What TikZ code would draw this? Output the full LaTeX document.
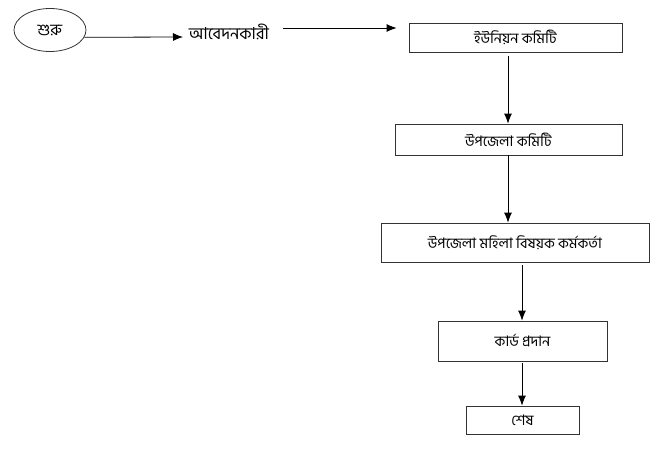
\documentclass[tikz,border=0pt]{standalone}
\usepackage{fontspec}
\newfontfamily\bn[Script=Bengali]{Hind Siliguri}
\usetikzlibrary{shapes.geometric,arrows.meta}
\begin{document}
\begin{tikzpicture}[x=1pt,y=-1pt,
  every node/.style={font=\bn\fontsize{14.5}{17}\selectfont},
  box/.style={draw=black!80, line width=0.8pt, rectangle, inner sep=0pt},
  arr/.style={line width=0.8pt, -{Latex[length=10pt,width=8pt]}}]
\useasboundingbox (0,0) rectangle (666,453);
\node[draw=black!80, line width=0.8pt, ellipse, minimum width=72, minimum height=43, inner sep=0pt, font=\bn\fontsize{16}{18}\selectfont] (start) at (50,30) {শুরু};
\node[font=\bn\fontsize{16.5}{19}\selectfont, inner sep=2pt] (app) at (229,32) {আবেদনকারী};
\node[box, minimum width=213, minimum height=29] (b1) at (515.5,37.5) {ইউনিয়ন কমিটি};
\node[box, minimum width=227, minimum height=31] (b2) at (508.5,139.5) {উপজেলা কমিটি};
\node[box, minimum width=268, minimum height=39] (b3) at (515,242.5) {উপজেলা মহিলা বিষয়ক কর্মকর্তা};
\node[box, minimum width=169, minimum height=40] (b4) at (522.5,341) {কার্ড প্রদান};
\node[box, minimum width=113, minimum height=28] (b5) at (522.5,420) {শেষ};
\coordinate (a1e) at (183,37);
\coordinate (a2s) at (283,28);
\coordinate (xa) at (508,0);
\coordinate (xb) at (522,0);
\draw[arr] (start.-12) -- (a1e);
\draw[arr, shorten >=12pt] (a2s) -- (a2s -| b1.west);
\draw[arr, shorten <=4pt] (b1.south -| xa) -- (b2.north -| xa);
\draw[arr] (b2.south -| xa) -- (b3.north -| xa);
\draw[arr, shorten <=3pt] (b3.south -| xb) -- (b4.north -| xb);
\draw[arr, shorten <=2pt] (b4.south -| xb) -- (b5.north -| xb);
\end{tikzpicture}
\end{document}
